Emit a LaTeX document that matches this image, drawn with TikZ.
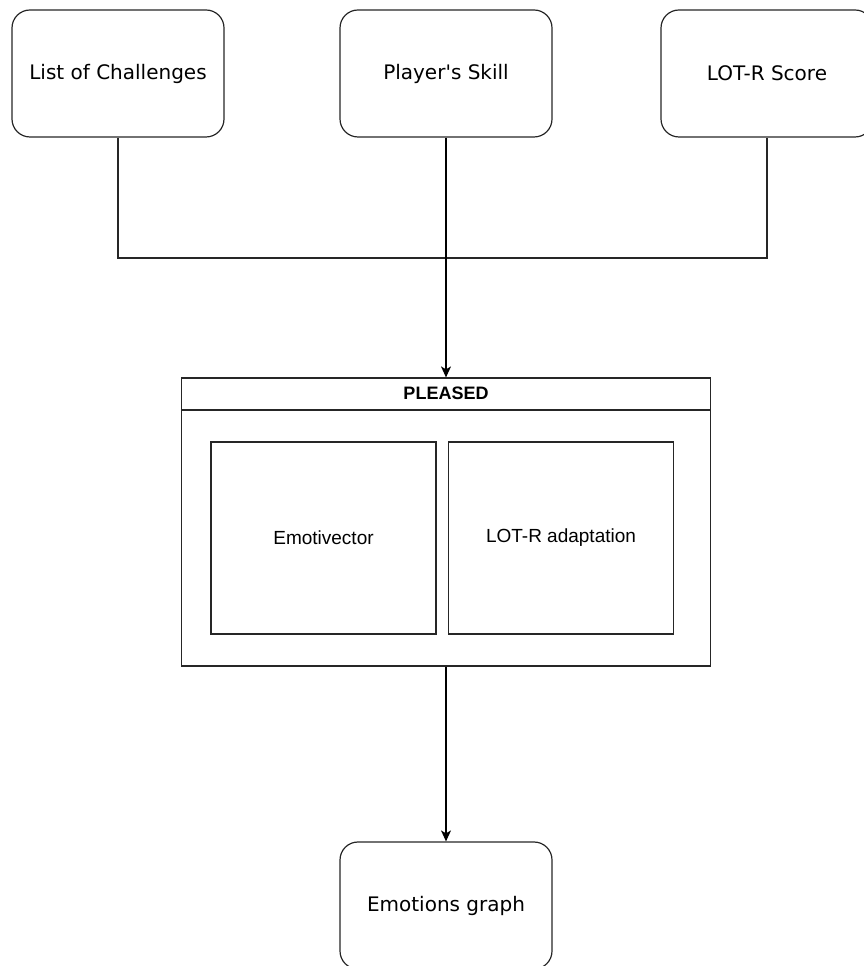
\documentclass[tikz,border=0pt]{standalone}
\usepackage{fontspec}
\setmainfont{Liberation Sans}
\newfontfamily\verdfont{DejaVu Sans}
\usetikzlibrary{arrows.meta, positioning}

\begin{document}
\begin{tikzpicture}[
  x=1pt, y=1pt,
  line width=1.2pt,
  src/.style={draw=black!85, rounded corners=18pt, align=center,
              minimum width=212pt, minimum height=127pt,
              font=\verdfont\fontsize{20}{24}\selectfont, inner sep=0pt},
  part/.style={draw=black!85, align=center, minimum width=225pt,
               minimum height=192pt, font=\fontsize{19}{23}\selectfont,
               inner sep=0pt},
  frame/.style={draw=black!85, minimum width=529pt, minimum height=288pt,
                inner sep=0pt},
  ar/.style={-{Stealth[length=11pt, width=10pt, inset=3pt]}}
]
\clip (0,0) rectangle (864,966);
\useasboundingbox (0,0) rectangle (864,966);
% inputs
\node[src] (chal)  at (118,892.5) {List of Challenges};
\node[src] (skill) at (446,892.5) {Player's Skill};
\node[src] (lotr)  at (767,892.5) {LOT-R Score};
% PLEASED block
\node[frame] (pleased) at (446,444) {};
\draw[draw=black!85] (pleased.west |- 0,556) -- (pleased.east |- 0,556);
\node[font=\bfseries\fontsize{18}{21}\selectfont] (title)
     at (446,573) {PLEASED};
\node[part] (emo)   at (323.5,428) {Emotivector};
\node[part] (adapt) at (561,428)   {LOT-R adaptation};
% output
\node[src] (graph) at (446,60.5) {Emotions graph};
% connectors
\coordinate (join) at (446,708);
\draw[draw=black!85] (chal.south) |- (join) -| (lotr.south);
\draw[ar] (skill.south) -- (pleased.north);
\draw[ar] (pleased.south) -- (graph.north);
\end{tikzpicture}
\end{document}
